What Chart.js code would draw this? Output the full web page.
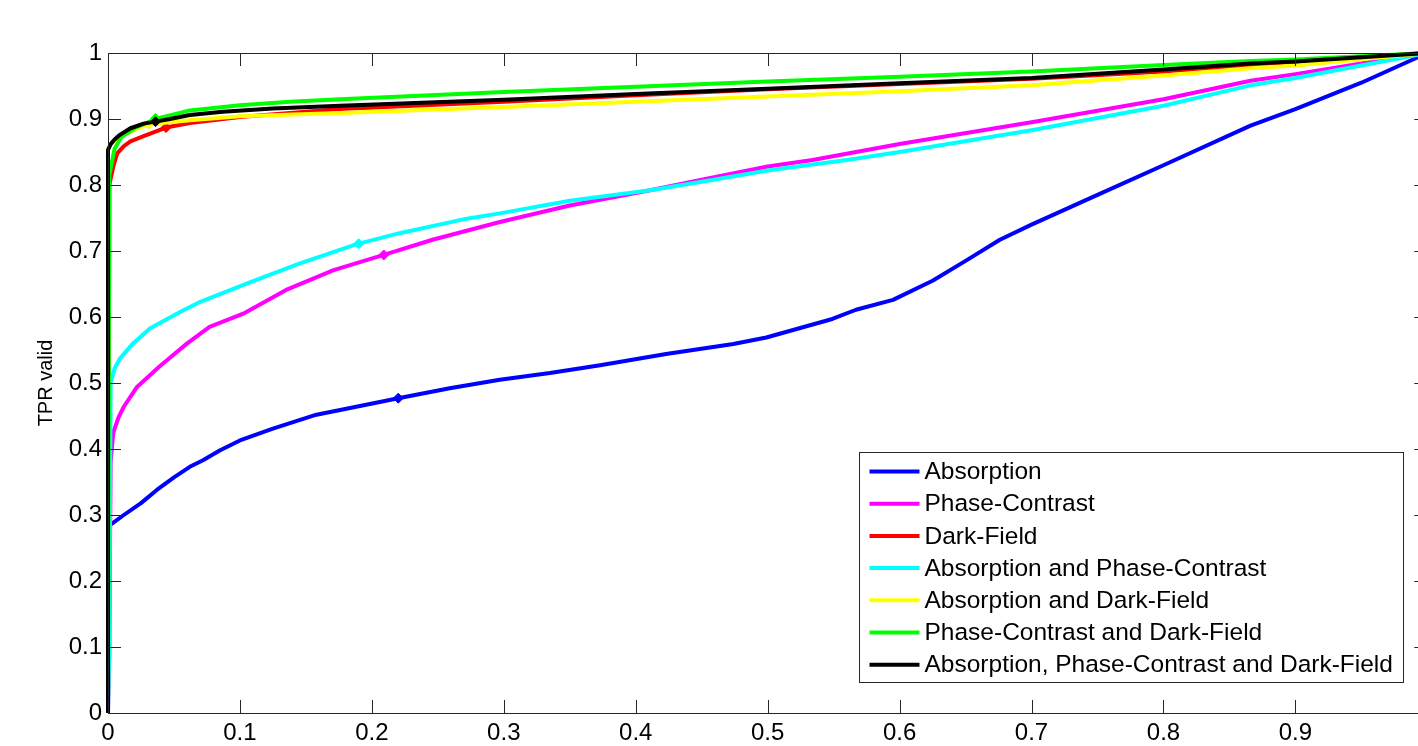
<!DOCTYPE html>
<html>
<head>
<meta charset="utf-8">
<script src="https://cdn.jsdelivr.net/npm/chart.js@4"></script>
<style>
  html, body { margin: 0; padding: 0; background: #fff; overflow: hidden; }
  #wrap { width: 1440px; height: 746px; }
</style>
</head>
<body>
<div id="wrap"><canvas id="roc" width="1440" height="746"></canvas></div>
<script>
// Series names and colours (MATLAB default line colours)
const seriesLabels = [
    'Absorption',
    'Phase-Contrast',
    'Dark-Field',
    'Absorption and Phase-Contrast',
    'Absorption and Dark-Field',
    'Phase-Contrast and Dark-Field',
    'Absorption, Phase-Contrast and Dark-Field'
];
const seriesColors = ['#0000ff', '#ff00ff', '#ff0000', '#00ffff', '#ffff00', '#00ff00', '#000000'];

// ROC curves: false positive rate / true positive rate
const absorptionFpr = [0, 0, 0.003, 0.012, 0.025, 0.037, 0.05, 0.062, 0.072, 0.085, 0.1, 0.125, 0.158, 0.176, 0.22, 0.259, 0.297, 0.335, 0.373, 0.423, 0.474, 0.499, 0.549, 0.567, 0.595, 0.625, 0.65, 0.676, 0.7, 0.75, 0.8, 0.866, 0.9, 0.95, 1];
const absorptionTpr = [0, 0.283, 0.287, 0.3, 0.318, 0.338, 0.357, 0.373, 0.383, 0.398, 0.413, 0.431, 0.452, 0.459, 0.477, 0.492, 0.505, 0.515, 0.527, 0.544, 0.559, 0.569, 0.597, 0.611, 0.626, 0.655, 0.685, 0.717, 0.74, 0.785, 0.83, 0.89, 0.915, 0.955, 1];

const phaseFpr = [0, 0.001, 0.002, 0.004, 0.008, 0.012, 0.022, 0.039, 0.06, 0.077, 0.1025, 0.135, 0.171, 0.209, 0.246, 0.297, 0.35, 0.411, 0.45, 0.5, 0.534, 0.6, 0.7, 0.8, 0.866, 0.9, 0.95, 1];
const phaseTpr = [0, 0.09, 0.38, 0.425, 0.448, 0.464, 0.494, 0.525, 0.56, 0.585, 0.605, 0.641, 0.671, 0.694, 0.717, 0.744, 0.769, 0.792, 0.808, 0.828, 0.838, 0.862, 0.895, 0.93, 0.958, 0.968, 0.984, 1];

const darkFpr = [0, 0.001, 0.004, 0.007, 0.012, 0.017, 0.027, 0.044, 0.062, 0.1, 0.138, 0.176, 0.3, 0.4, 0.5, 0.6, 0.7, 0.8, 0.866, 0.9, 1];
const darkTpr = [0, 0.8, 0.828, 0.848, 0.859, 0.866, 0.874, 0.887, 0.894, 0.903, 0.909, 0.915, 0.926, 0.936, 0.945, 0.953, 0.961, 0.972, 0.981, 0.985, 1];

const absPhaseFpr = [0, 0.001, 0.002, 0.005, 0.009, 0.019, 0.032, 0.055, 0.07, 0.108, 0.145, 0.188, 0.221, 0.272, 0.297, 0.35, 0.411, 0.45, 0.5, 0.56, 0.6, 0.7, 0.8, 0.866, 0.9, 0.95, 1];
const absPhaseTpr = [0, 0.1, 0.5, 0.522, 0.537, 0.56, 0.583, 0.608, 0.623, 0.653, 0.681, 0.71, 0.727, 0.749, 0.757, 0.776, 0.792, 0.805, 0.822, 0.838, 0.85, 0.883, 0.92, 0.951, 0.962, 0.981, 1];

const absDarkFpr = [0, 0, 0.003, 0.012, 0.024, 0.031, 0.062, 0.1, 0.176, 0.3, 0.4, 0.5, 0.6, 0.7, 0.8, 0.866, 0.9, 1];
const absDarkTpr = [0, 0.855, 0.863, 0.876, 0.887, 0.892, 0.898, 0.904, 0.909, 0.918, 0.926, 0.934, 0.942, 0.951, 0.966, 0.977, 0.981, 1];

const phaseDarkFpr = [0, 0.001, 0.005, 0.01, 0.02, 0.036, 0.062, 0.1, 0.138, 0.176, 0.3, 0.4, 0.5, 0.6, 0.7, 0.8, 0.866, 0.9, 1];
const phaseDarkTpr = [0, 0.815, 0.855, 0.872, 0.886, 0.9, 0.913, 0.921, 0.926, 0.93, 0.941, 0.949, 0.957, 0.964, 0.972, 0.982, 0.988, 0.99, 1];

const allFpr = [0, 0, 0.002, 0.005, 0.009, 0.017, 0.027, 0.036, 0.047, 0.062, 0.087, 0.125, 0.176, 0.3, 0.4, 0.5, 0.6, 0.7, 0.8, 0.866, 0.9, 1];
const allTpr = [0, 0.853, 0.862, 0.869, 0.876, 0.886, 0.893, 0.896, 0.9, 0.906, 0.911, 0.916, 0.92, 0.929, 0.938, 0.946, 0.954, 0.962, 0.975, 0.984, 0.987, 1];

// Operating point marked on each curve (same order as the labels)
const operatingFpr = [0.22, 0.209, 0.044, 0.19, 0.031, 0.036, 0.036];
const operatingTpr = [0.477, 0.694, 0.887, 0.711, 0.892, 0.901, 0.896];

const xTickValues = [0, 0.1, 0.2, 0.3, 0.4, 0.5, 0.6, 0.7, 0.8, 0.9, 1];
const yTickValues = [0, 0.1, 0.2, 0.3, 0.4, 0.5, 0.6, 0.7, 0.8, 0.9, 1];

const curveFpr = [absorptionFpr, phaseFpr, darkFpr, absPhaseFpr, absDarkFpr, phaseDarkFpr, allFpr];
const curveTpr = [absorptionTpr, phaseTpr, darkTpr, absPhaseTpr, absDarkTpr, phaseDarkTpr, allTpr];

const FONT = '"Liberation Sans", Arial, Helvetica, sans-serif';
const n = seriesLabels.length;
const tickText = v => String(Math.round(v * 10) / 10);

const datasets = [];
seriesLabels.forEach((label, i) => {
    // later series sit on top, as in the MATLAB plot
    datasets.push({
        type: 'line',
        label: label,
        data: curveFpr[i].map((x, k) => ({ x: x, y: curveTpr[i][k] })),
        borderColor: seriesColors[i],
        backgroundColor: seriesColors[i],
        borderWidth: 4,
        pointRadius: 0,
        tension: 0,
        borderJoinStyle: 'round',
        fill: false,
        clip: 3,
        order: 2 * (n - i)
    });
    datasets.push({
        type: 'scatter',
        label: label + ' (operating point)',
        data: [{ x: operatingFpr[i], y: operatingTpr[i] }],
        backgroundColor: seriesColors[i],
        borderColor: seriesColors[i],
        pointStyle: 'rectRot',
        pointRadius: 5,
        order: 2 * (n - i) - 1
    });
});

// axes box with inward ticks on all four sides
const boxPlugin = {
    id: 'matlabBox',
    afterDraw(chart) {
        const { ctx, chartArea: a, scales } = chart;
        const tl = 13;
        ctx.save();
        ctx.strokeStyle = '#262626';
        ctx.lineWidth = 1;
        ctx.strokeRect(Math.round(a.left) + 0.5, Math.round(a.top) + 0.5,
            Math.round(a.right - a.left), Math.round(a.bottom - a.top));
        ctx.beginPath();
        xTickValues.forEach(v => {
            const px = Math.round(scales.x.getPixelForValue(v)) + 0.5;
            ctx.moveTo(px, a.bottom); ctx.lineTo(px, a.bottom - tl);
            ctx.moveTo(px, a.top); ctx.lineTo(px, a.top + tl);
        });
        yTickValues.forEach(v => {
            const py = Math.round(scales.y.getPixelForValue(v)) + 0.5;
            ctx.moveTo(a.left, py); ctx.lineTo(a.left + tl, py);
            ctx.moveTo(a.right, py); ctx.lineTo(a.right - tl, py);
        });
        ctx.stroke();
        ctx.restore();
    }
};

// legend box in the lower right of the axes
const legendPlugin = {
    id: 'matlabLegend',
    afterDraw(chart) {
        const { ctx, chartArea: a } = chart;
        const x0 = Math.round(a.right - 568) + 0.5;
        const y0 = Math.round(a.bottom - 261) + 0.5;
        const w = 544, h = 230;
        ctx.save();
        ctx.fillStyle = '#fff';
        ctx.fillRect(x0, y0, w, h);
        ctx.strokeStyle = '#262626';
        ctx.lineWidth = 1;
        ctx.strokeRect(x0, y0, w, h);
        ctx.font = '24.5px ' + FONT;
        ctx.textBaseline = 'middle';
        ctx.textAlign = 'left';
        seriesLabels.forEach((label, i) => {
            const y = y0 + 19 + i * 32.2;
            ctx.strokeStyle = seriesColors[i];
            ctx.lineWidth = 4;
            ctx.beginPath();
            ctx.moveTo(x0 + 10, y);
            ctx.lineTo(x0 + 60, y);
            ctx.stroke();
            ctx.fillStyle = '#000';
            ctx.fillText(label, x0 + 65, y + 1);
        });
        ctx.restore();
    }
};

new Chart(document.getElementById('roc'), {
    data: { datasets: datasets },
    options: {
        responsive: false,
        animation: false,
        devicePixelRatio: 1,
        layout: { padding: { top: 53, right: 12, left: 0, bottom: 0 } },
        plugins: {
            legend: { display: false },
            tooltip: { enabled: false }
        },
        scales: {
            x: {
                type: 'linear',
                min: 0,
                max: 1,
                afterBuildTicks: s => { s.ticks = xTickValues.map(v => ({ value: v })); },
                afterFit: s => { s.height = 33; },
                ticks: {
                    color: '#000',
                    font: { family: FONT, size: 24 },
                    padding: 6,
                    maxRotation: 0,
                    autoSkip: false,
                    callback: tickText
                },
                grid: { display: false, drawTicks: false },
                border: { display: false }
            },
            y: {
                type: 'linear',
                min: 0,
                max: 1,
                afterBuildTicks: s => { s.ticks = yTickValues.map(v => ({ value: v })); },
                afterFit: s => { s.width = 108; },
                ticks: {
                    color: '#000',
                    font: { family: FONT, size: 24 },
                    padding: 6,
                    autoSkip: false,
                    callback: tickText
                },
                grid: { display: false, drawTicks: false },
                border: { display: false },
                title: {
                    display: true,
                    text: 'TPR valid',
                    color: '#000',
                    font: { family: FONT, size: 20 },
                    padding: { top: 34, bottom: 0 }
                }
            }
        }
    },
    plugins: [boxPlugin, legendPlugin]
});
</script>
</body>
</html>
